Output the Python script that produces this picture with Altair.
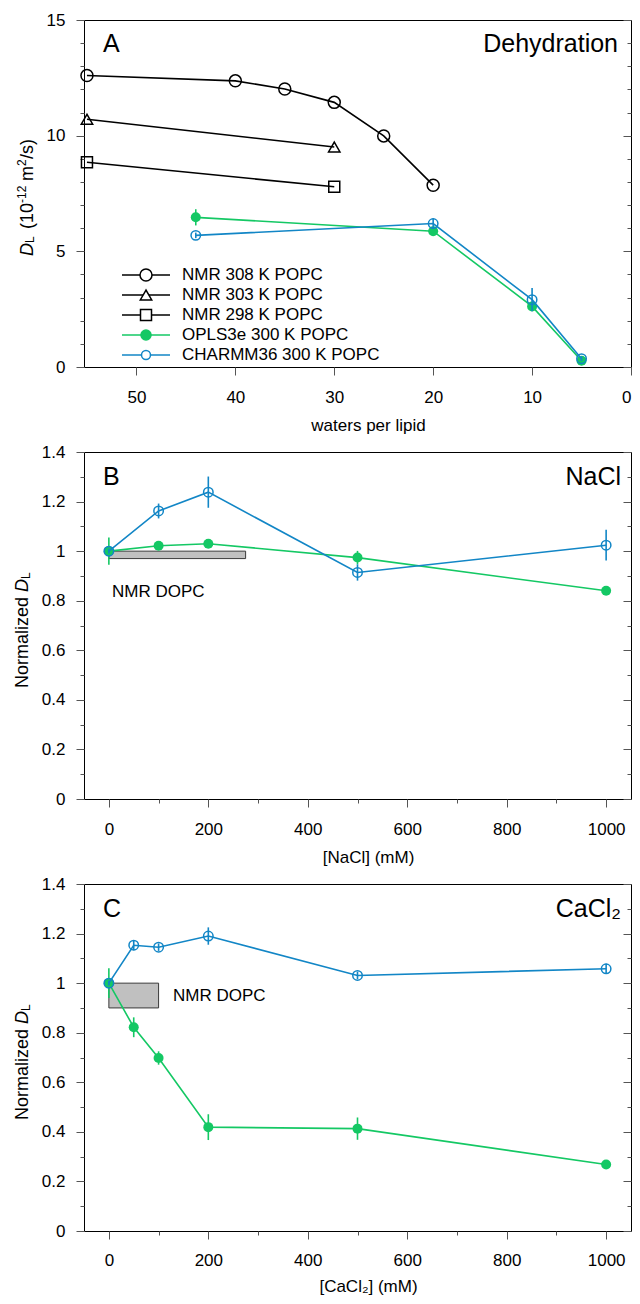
import altair as alt
import pandas as pd

# ---------------- data ----------------
# Panel A: dehydration (waters per lipid vs D_L in 1e-12 m^2/s)
A_NMR308_WATERS = [55, 40, 35, 30, 25, 20]
A_NMR308_DL = [12.60, 12.37, 12.02, 11.44, 9.99, 7.86]
A_NMR303_WATERS = [55, 30]
A_NMR303_DL = [10.71, 9.51]
A_NMR298_WATERS = [55, 30]
A_NMR298_DL = [8.85, 7.79]
A_SIM_WATERS = [44, 20, 10, 5]
A_OPLS_DL = [6.47, 5.87, 2.62, 0.27]
A_OPLS_ERR = [0.35, 0.10, 0.20, 0.05]
A_CHARMM_DL = [5.69, 6.20, 2.91, 0.36]
A_CHARMM_ERR = [0.12, 0.22, 0.50, 0.10]

# Panel B: NaCl
B_NACL_MM = [0, 100, 200, 500, 1000]
B_OPLS = [1.000, 1.022, 1.030, 0.974, 0.840]
B_OPLS_ERR = [0.055, 0.010, 0.010, 0.027, 0.010]
B_CHARMM = [1.000, 1.162, 1.238, 0.914, 1.024]
B_CHARMM_ERR = [0.010, 0.030, 0.063, 0.033, 0.062]
B_NMR_BOX_MM = [0, 275]
B_NMR_BOX_DL = [0.97, 1.00]

# Panel C: CaCl2
C_CACL2_MM = [0, 50, 100, 200, 500, 1000]
C_OPLS = [1.000, 0.822, 0.698, 0.419, 0.413, 0.268]
C_OPLS_ERR = [0.060, 0.040, 0.027, 0.052, 0.045, 0.010]
C_CHARMM = [1.000, 1.153, 1.145, 1.190, 1.031, 1.058]
C_CHARMM_ERR = [0.010, 0.020, 0.015, 0.035, 0.015, 0.020]
C_NMR_BOX_MM = [0, 100]
C_NMR_BOX_DL = [0.90, 1.00]

LEGEND_LABELS = ["NMR 308 K POPC", "NMR 303 K POPC", "NMR 298 K POPC",
                 "OPLS3e 300 K POPC", "CHARMM36 300 K POPC"]

A_Y_TICKS = list(range(0, 16))
A_X_TICKS = [0, 10, 20, 30, 40, 50]
BC_Y_TICKS = [round(i * 0.1, 1) for i in range(0, 15)]
BC_X_TICKS = list(range(0, 1001, 100))

# ---------------- styles ----------------
FONT = "Liberation Sans"
GREEN = "#14c864"
BLUE = "#1286c6"
BLACK = "#000000"
TICKC = "#555555"
W, H = 547, 347
FS = 17
TS = 18

ONE = pd.DataFrame({"k": [0]})


def sdf(xs, ys, errs=None):
    d = {"x": xs, "y": ys}
    if errs is not None:
        d["lo"] = [y - e for y, e in zip(ys, errs)]
        d["hi"] = [y + e for y, e in zip(ys, errs)]
    return pd.DataFrame(d)


def box_df(xs, ys):
    return pd.DataFrame({"x": [xs[0]], "x2": [xs[1]], "y": [ys[0]], "y2": [ys[1]]})


def y_axes(values, major_test, fmt):
    left = alt.Axis(values=values, format=fmt,
                    labelExpr=f"({major_test}) ? datum.label : ''",
                    tickSize={"condition": {"test": major_test, "value": 8}, "value": 4},
                    tickColor=TICKC, tickWidth=1, domain=False, grid=False,
                    title=None, labelPadding=11)
    right = alt.Axis(values=values, orient="right", labels=False,
                     tickSize={"condition": {"test": major_test, "value": -8}, "value": -4},
                     tickColor=TICKC, tickWidth=1, domain=False, grid=False, title=None)
    return left, right


def x_axis(values, major_test, title, lpad=14, tpad=12, flush=False):
    return alt.Axis(values=values, format="d",
                    labelExpr=f"({major_test}) ? datum.label : ''",
                    tickSize={"condition": {"test": major_test, "value": 8}, "value": 4},
                    tickColor=TICKC, tickWidth=1, domain=False, grid=False,
                    title=title, labelPadding=lpad, titlePadding=tpad, titleX=284,
                    labelFlush=flush)


def lines(df, color, X, Y, width=1.6):
    return alt.Chart(df).mark_line(color=color, strokeWidth=width).encode(x=X, y=Y)


def points(df, color, X, Y, shape="circle", filled=False, size=100):
    return alt.Chart(df).mark_point(shape=shape, filled=filled, color=color, size=size,
                                    strokeWidth=1.5, opacity=1).encode(x=X, y=Y)


def errs(df, color, X, ysc, yax):
    return alt.Chart(df).mark_rule(color=color, strokeWidth=1.6).encode(
        x=X, y=alt.Y("lo:Q", scale=ysc, axis=yax), y2="hi:Q")


def box(df, X, ysc, yax):
    return alt.Chart(df).mark_rect(fill="#c0c0c0", stroke="#3a3a3a", strokeWidth=1).encode(
        x=X, x2="x2:Q", y=alt.Y("y:Q", scale=ysc, axis=yax), y2="y2:Q")


def label(text, x, y, size=FS, align="left", baseline="middle", angle=0, style="normal"):
    return alt.Chart(ONE).mark_text(text=text, font=FONT, fontSize=size, align=align,
                                    baseline=baseline, angle=angle, fontStyle=style,
                                    color="black").encode(x=alt.value(x), y=alt.value(y))


def vlabel(text, x, y, size=TS, style="normal"):
    return label(text, x, y, size=size, angle=270, baseline="alphabetic", style=style)


def frame_axis_layer(df, X, ysc, yax_right):
    return alt.Chart(df).mark_point(opacity=0).encode(
        x=X, y=alt.Y("y:Q", scale=ysc, axis=yax_right))


# ---------------- panel A ----------------
xsA = alt.Scale(domain=[0, 55.3], reverse=True, nice=False, zero=False)
ysA = alt.Scale(domain=[0, 15], nice=False)
yA_l, yA_r = y_axes(A_Y_TICKS, "datum.value % 5 == 0", "d")
XA = alt.X("x:Q", scale=xsA, axis=x_axis(A_X_TICKS, "true", "waters per lipid", flush=True))
YA = alt.Y("y:Q", scale=ysA, axis=yA_l)

n308 = sdf(A_NMR308_WATERS, A_NMR308_DL)
n303 = sdf(A_NMR303_WATERS, A_NMR303_DL)
n298 = sdf(A_NMR298_WATERS, A_NMR298_DL)
oplsA = sdf(A_SIM_WATERS, A_OPLS_DL, A_OPLS_ERR)
charA = sdf(A_SIM_WATERS, A_CHARMM_DL, A_CHARMM_ERR)

legend_styles = [
    (BLACK, "circle", False, 144),
    (BLACK, "triangle-up", False, 130),
    (BLACK, "square", False, 121),
    (GREEN, "circle", True, 100),
    (BLUE, "circle", False, 80),
]
legend_layers = []
for i, (lab, (col, shp, fil, sz)) in enumerate(zip(LEGEND_LABELS, legend_styles)):
    yy = 255 + 20 * i
    legend_layers.append(alt.Chart(ONE).mark_rule(color=col, strokeWidth=1.6).encode(
        x=alt.value(38), x2=alt.value(86), y=alt.value(yy)))
    legend_layers.append(alt.Chart(ONE).mark_point(
        shape=shp, filled=True, fill=(col if fil else "white"), stroke=col, size=sz,
        strokeWidth=1.5, opacity=1).encode(x=alt.value(62), y=alt.value(yy)))
    legend_layers.append(label(lab, 98, yy))

innerA = alt.layer(
    lines(n308, BLACK, XA, YA), points(n308, BLACK, XA, YA, "circle", False, 144),
    lines(n303, BLACK, XA, YA), points(n303, BLACK, XA, YA, "triangle-up", False, 130),
    lines(n298, BLACK, XA, YA), points(n298, BLACK, XA, YA, "square", False, 121),
    lines(oplsA, GREEN, XA, YA), errs(oplsA, GREEN, XA, ysA, yA_l),
    points(oplsA, GREEN, XA, YA, "circle", True, 100),
    lines(charA, BLUE, XA, YA), errs(charA, BLUE, XA, ysA, yA_l),
    points(charA, BLUE, XA, YA, "circle", False, 90),
    *legend_layers,
    label("A", 19, 24, size=25),
    label("Dehydration", 534, 24, size=25, align="right"),
    # y title: D_L (10^-12 m^2/s)
    vlabel("D", -51, 236, style="italic"),
    vlabel("L", -50, 223, size=12),
    vlabel("(10", -51, 209),
    vlabel("-12", -58, 183, size=12),
    vlabel("m", -51, 161),
    vlabel("2", -58, 146, size=12),
    vlabel("/s)", -51, 139),
)
panelA = alt.layer(innerA, frame_axis_layer(n308, XA, ysA, yA_r)).resolve_axis(
    y="independent").properties(width=W, height=H)


# ---------------- panels B and C ----------------
def salt_panel(conc, opls, opls_err, charmm, charmm_err, box_x, box_y, letter, salt,
               xtitle, nmr_xy, lpad, tpad):
    xs = alt.Scale(domain=[-50, 1050], nice=False, zero=False)
    ys = alt.Scale(domain=[0, 1.4], nice=False)
    yl, yr = y_axes(BC_Y_TICKS, "round(datum.value * 10) % 2 == 0", "~g")
    X = alt.X("x:Q", scale=xs,
              axis=x_axis(BC_X_TICKS, "datum.value % 200 == 0", xtitle, lpad, tpad))
    Y = alt.Y("y:Q", scale=ys, axis=yl)
    o = sdf(conc, opls, opls_err)
    c = sdf(conc, charmm, charmm_err)
    inner = alt.layer(
        box(box_df(box_x, box_y), X, ys, yl),
        lines(o, GREEN, X, Y), errs(o, GREEN, X, ys, yl), points(o, GREEN, X, Y, "circle", True, 100),
        lines(c, BLUE, X, Y), errs(c, BLUE, X, ys, yl), points(c, BLUE, X, Y, "circle", False, 90),
        label("NMR DOPC", nmr_xy[0], nmr_xy[1]),
        label(letter, 19, 25, size=25),
        label(salt, 537, 25, size=25, align="right"),
        vlabel("Normalized ", -56, 236),
        vlabel("D", -56, 140, style="italic"),
        vlabel("L", -54, 127, size=12),
    )
    return alt.layer(inner, frame_axis_layer(o, X, ys, yr)).resolve_axis(
        y="independent").properties(width=W, height=H)


panelB = salt_panel(B_NACL_MM, B_OPLS, B_OPLS_ERR, B_CHARMM, B_CHARMM_ERR,
                    B_NMR_BOX_MM, B_NMR_BOX_DL, "B", "NaCl", "[NaCl] (mM)", (28, 140), 14, 12)
panelC = salt_panel(C_CACL2_MM, C_OPLS, C_OPLS_ERR, C_CHARMM, C_CHARMM_ERR,
                    C_NMR_BOX_MM, C_NMR_BOX_DL, "C", "CaCl\u2082", "[CaCl\u2082] (mM)", (89, 112),
                    13, 10)

chart = alt.vconcat(panelA, panelB, panelC, spacing=8).properties(
    padding={"left": 5, "top": 2, "right": 0, "bottom": 0}
).configure_view(stroke="black", strokeWidth=1).configure_axis(
    labelFont=FONT, labelFontSize=FS, labelColor="black",
    titleFont=FONT, titleFontSize=FS, titleFontWeight="normal", titleColor="black"
)

chart.save("out.html", embed_options={"renderer": "svg", "actions": False})
